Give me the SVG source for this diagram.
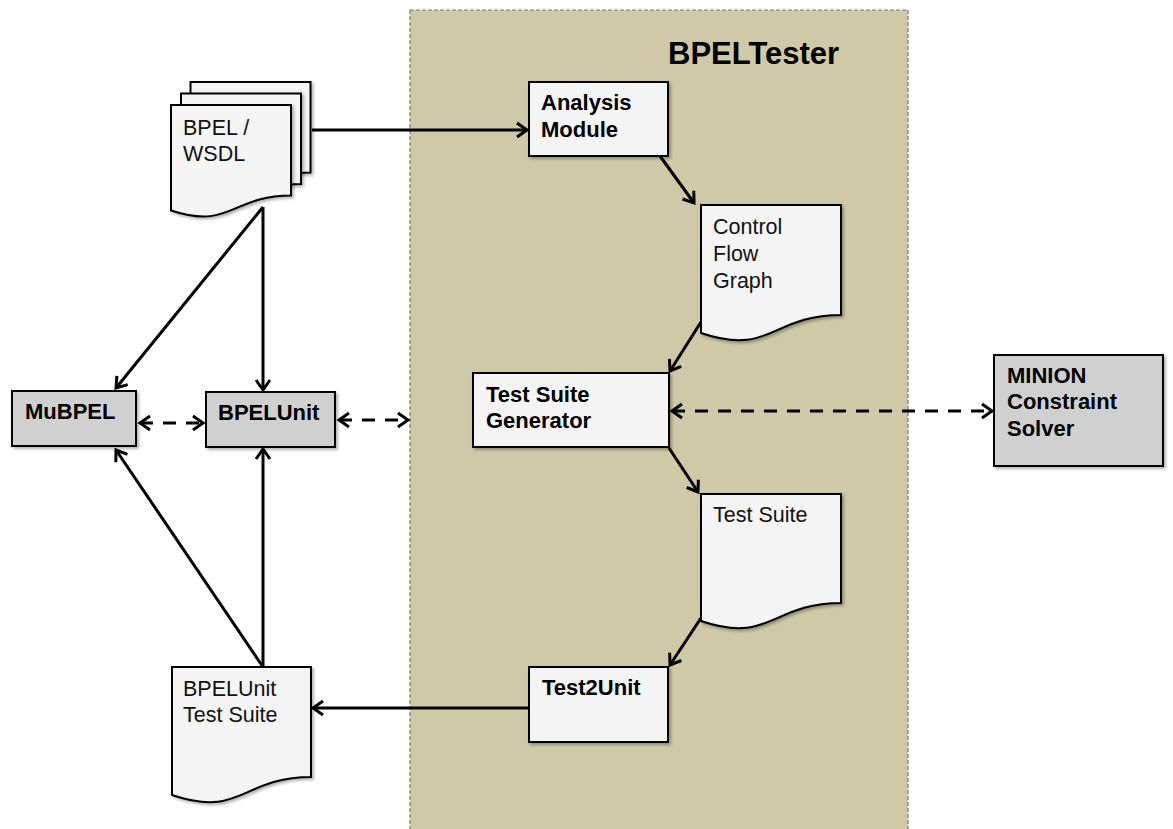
<svg xmlns="http://www.w3.org/2000/svg" width="1173" height="829" viewBox="0 0 1173 829">
  <style>
    .doc { fill: #f4f4f4; stroke: #000; stroke-width: 2; filter: url(#sh); }
    .box { fill: #f4f4f4; stroke: #000; stroke-width: 2; filter: url(#sh); }
    .gbox { fill: #d0d0d0; stroke: #000; stroke-width: 2; filter: url(#sh); }
    .t { font-family: "Liberation Sans", Arial, sans-serif; font-size: 21.5px; fill: #111; }
    .b { font-family: "Liberation Sans", Arial, sans-serif; font-size: 22px; font-weight: bold; fill: #000; }
    .c { fill: none; stroke: #000; stroke-width: 3; }
    .solid { marker-end: url(#arr); }
    .dash { stroke-dasharray: 13 10; marker-start: url(#arr); marker-end: url(#arr); }
  </style>
  <defs>
    <filter id="sh" x="-10%" y="-10%" width="130%" height="130%">
      <feDropShadow dx="2" dy="2" stdDeviation="1.5" flood-color="#000" flood-opacity="0.3"/>
    </filter>
    <marker id="arr" viewBox="-13 -9 16 18" refX="0" refY="0" markerWidth="16" markerHeight="18" markerUnits="userSpaceOnUse" orient="auto-start-reverse">
      <path d="M-10,-7 L0,0 L-10,7" fill="none" stroke="#000" stroke-width="3" stroke-dasharray="none"/>
    </marker>
  </defs>

  <rect width="1173" height="829" fill="#fff"/>

  <g id="bpeltester">
    <rect x="410" y="10" width="498" height="830" fill="#cfc9a8" stroke="#7a7a7a" stroke-width="1.2" stroke-dasharray="4 2"/>
    <text x="668" y="64" font-family="'Liberation Sans', Arial, sans-serif" font-size="31" font-weight="bold" fill="#000">BPELTester</text>
  </g>

  <g id="connectors">
    <path class="c solid" d="M312,130 H527"/>
    <path class="c solid" d="M660,156 L694,203"/>
    <path class="c solid" d="M701,322 L670,371"/>
    <path class="c solid" d="M669,448 L698,492"/>
    <path class="c solid" d="M701,618 L670,665"/>
    <path class="c solid" d="M529,708 L313,708"/>
    <path class="c solid" d="M263,207 L116,388"/>
    <path class="c solid" d="M263,207 V390"/>
    <path class="c solid" d="M263,667 L116,450"/>
    <path class="c solid" d="M263,667 V449"/>
    <path class="c dash" d="M140,423 H203"/>
    <path class="c dash" d="M339,420 H408"/>
    <path class="c dash" d="M672,411 H992"/>
  </g>

  <g id="bpel-wsdl">
    <path class="doc" d="M190.5,82 H310.5 V172.6 C250.5,172.6 250.5,207.1 190.5,187.5 Z"/>
    <path class="doc" d="M181,93.5 H301 V184.1 C241,184.1 241,218.6 181,199 Z"/>
    <path class="doc" d="M171,105 H291 V195.6 C231,195.6 231,230.1 171,210.5 Z"/>
    <text class="t" x="183" y="135">BPEL /</text>
    <text class="t" x="183" y="161">WSDL</text>
  </g>

  <g id="analysis-module">
    <rect class="box" x="529" y="82" width="139" height="74"/>
    <text class="b" x="541" y="110">Analysis</text>
    <text class="b" x="541" y="137">Module</text>
  </g>

  <g id="control-flow-graph">
    <path class="doc" d="M701,205 H841 V315 C771,315 771,356.7 701,333 Z"/>
    <text class="t" x="713" y="234">Control</text>
    <text class="t" x="713" y="261">Flow</text>
    <text class="t" x="713" y="288">Graph</text>
  </g>

  <g id="test-suite-generator">
    <rect class="box" x="473" y="373" width="196" height="74"/>
    <text class="b" x="486" y="402">Test Suite</text>
    <text class="b" x="486" y="428">Generator</text>
  </g>

  <g id="minion">
    <rect class="gbox" x="994" y="355" width="169" height="111"/>
    <text class="b" x="1007" y="383">MINION</text>
    <text class="b" x="1007" y="409">Constraint</text>
    <text class="b" x="1007" y="436">Solver</text>
  </g>

  <g id="test-suite">
    <path class="doc" d="M701,494 H841 V603 C771,603 771,644.6 701,621 Z"/>
    <text class="t" x="713" y="522">Test Suite</text>
  </g>

  <g id="test2unit">
    <rect class="box" x="529" y="667" width="139" height="75"/>
    <text class="b" x="542" y="695">Test2Unit</text>
  </g>

  <g id="bpelunit-test-suite">
    <path class="doc" d="M172,667 H311 V777 C241.5,777 241.5,818.7 172,795 Z"/>
    <text class="t" x="183" y="696">BPELUnit</text>
    <text class="t" x="183" y="722">Test Suite</text>
  </g>

  <g id="mubpel">
    <rect class="gbox" x="12" y="391" width="124" height="55"/>
    <text class="b" x="25" y="419">MuBPEL</text>
  </g>

  <g id="bpelunit">
    <rect class="gbox" x="206" y="392" width="129" height="55"/>
    <text class="b" x="218" y="420">BPELUnit</text>
  </g>
</svg>
